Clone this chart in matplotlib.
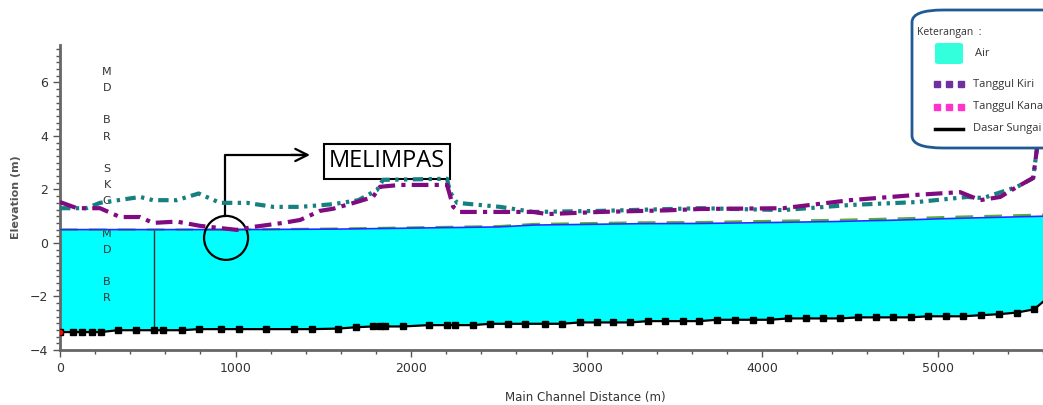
import matplotlib
matplotlib.use("Agg")
import matplotlib.pyplot as plt
from matplotlib.patches import FancyBboxPatch, Ellipse
from matplotlib.ticker import MultipleLocator

# dasar sungai (bed) at each cross section
station = [0, 74, 125, 182, 233, 330, 433, 536, 587, 695, 792, 917, 1020, 1174,
           1333, 1436, 1586, 1684, 1784, 1824, 1851, 1954, 2100, 2203, 2251, 2351,
           2451, 2554, 2649, 2762, 2860, 2960, 3062, 3149, 3249, 3351, 3446, 3549,
           3643, 3743, 3846, 3946, 4046, 4149, 4249, 4346, 4446, 4546, 4649, 4744,
           4846, 4946, 5046, 5144, 5244, 5352, 5452, 5549, 5600]
bed = [-3.33, -3.33, -3.33, -3.33, -3.33, -3.26, -3.26, -3.26, -3.26, -3.26, -3.22,
       -3.22, -3.22, -3.22, -3.22, -3.22, -3.20, -3.15, -3.12, -3.12, -3.12, -3.12,
       -3.07, -3.07, -3.07, -3.07, -3.02, -3.02, -3.02, -3.02, -3.02, -2.97, -2.97,
       -2.97, -2.97, -2.92, -2.92, -2.92, -2.92, -2.87, -2.87, -2.87, -2.87, -2.82,
       -2.82, -2.82, -2.82, -2.78, -2.78, -2.78, -2.78, -2.74, -2.74, -2.74, -2.70,
       -2.66, -2.60, -2.48, -2.20]

# muka air (water surface) and energy line
ws_x = [0, 1000, 1600, 2500, 2700, 3300, 3650, 3900, 4400, 4800, 5100, 5600]
ws_y = [0.50, 0.50, 0.52, 0.60, 0.67, 0.72, 0.73, 0.75, 0.80, 0.86, 0.92, 1.00]
eg_y = [0.50, 0.50, 0.54, 0.63, 0.71, 0.77, 0.78, 0.81, 0.86, 0.92, 0.98, 1.06]

# tanggul kiri
kiri_x = [0, 97, 228, 342, 456, 530, 665, 798, 1008, 1100, 1270, 1368, 1481, 1556,
          1700, 1783, 1823, 1937, 2205, 2240, 2279, 2695, 2775, 3077, 3459, 3647,
          4120, 4501, 4883, 5128, 5242, 5356, 5453, 5544, 5567, 5590]
kiri_y = [1.53, 1.30, 1.30, 0.97, 0.97, 0.75, 0.80, 0.64, 0.49, 0.60, 0.75, 0.86,
          1.20, 1.28, 1.55, 1.72, 2.10, 2.17, 2.17, 1.35, 1.16, 1.16, 1.08, 1.16,
          1.22, 1.27, 1.30, 1.60, 1.80, 1.90, 1.60, 1.72, 2.10, 2.43, 3.60, 3.90]

# tanggul kanan
kanan_x = [0, 150, 228, 456, 530, 665, 790, 912, 1065, 1215, 1368, 1556, 1700, 1806,
           1840, 2205, 2222, 2262, 2507, 2695, 3077, 3647, 4120, 4501, 4883, 5168,
           5259, 5453, 5544, 5567, 5590]
kanan_y = [1.30, 1.30, 1.50, 1.72, 1.60, 1.60, 1.85, 1.50, 1.50, 1.35, 1.35, 1.45,
           1.60, 1.98, 2.36, 2.40, 1.90, 1.50, 1.35, 1.16, 1.20, 1.30, 1.23, 1.42,
           1.53, 1.72, 1.68, 2.10, 2.43, 3.60, 3.90]

bridge_x = 536
bridge_label = "S\nK\nG\n\nM\nD\n\nB\nR\n\nS\nK\nG\n\nM\nD\n\nB\nR"
legend_items = ["Air", "Tanggul Kiri", "Tanggul Kanan", "Dasar Sungai"]

W, H = 1043, 405
fig = plt.figure(figsize=(W / 100, H / 100), dpi=100)
ax = fig.add_axes([60 / W, 1 - 350 / H, 1 - 60 / W, (350 - 45) / H])


def px(x, y):
    return x / W, 1 - y / H


narrow = ["Liberation Sans Narrow", "DejaVu Sans"]

ax.fill_between(ws_x, [-9] * len(ws_x), ws_y, color="#00ffff", lw=0, zorder=1)
ax.fill_between(station, [-9] * len(station), bed, color="white", lw=0, zorder=1.5)
ax.plot(ws_x, eg_y, color="#5aaa3c", lw=1.6, ls=(0, (8, 5)), zorder=3)
ax.plot(ws_x, ws_y, color="#2030ff", lw=1.2, zorder=3)
ax.plot(kanan_x, kanan_y, color="#168080", lw=3, ls=(0, (2.5, 1.3, 0.8, 1.3, 0.8, 1.3)), zorder=8)
ax.plot(kiri_x, kiri_y, color="#800a80", lw=3, ls=(0, (4, 1.5, 1, 1.5)), zorder=8)
ax.plot(station, bed, color="black", lw=1.6, zorder=5)
ax.plot(station[:-1], bed[:-1], ls="none", marker="s", ms=4.5, color="black", zorder=5)
ax.plot(station[0], bed[0], ls="none", marker="o", ms=3, color="red", zorder=6)
ax.vlines(bridge_x, bed[station.index(bridge_x)], ws_y[0], color="#303030", lw=1, zorder=3)
ax.text(268, -2.25, bridge_label, family=narrow, fontsize=8, color="#333333",
        ha="center", va="bottom", linespacing=1.77, clip_on=True, zorder=2)

ax.set_xlim(0, 5600)
ax.set_ylim(-4, 7.4)
ax.xaxis.set_major_locator(MultipleLocator(1000))
ax.xaxis.set_minor_locator(MultipleLocator(200))
ax.yaxis.set_major_locator(MultipleLocator(2))
ax.yaxis.set_minor_locator(MultipleLocator(0.25))
for s in ["top", "right"]:
    ax.spines[s].set_visible(False)
for s in ["left", "bottom"]:
    ax.spines[s].set_color("#666666")
    ax.spines[s].set_linewidth(2)
ax.tick_params(which="both", direction="out", color="#555555", labelcolor="#333333")
ax.tick_params(which="major", length=5, width=1)
ax.tick_params(which="minor", length=3, width=1)
for lab in ax.get_xticklabels() + ax.get_yticklabels():
    lab.set_family(narrow)
    lab.set_fontsize(9)
ax.set_xlabel("Main Channel Distance (m)", family=narrow, fontsize=8.5, color="#333333")
ax.xaxis.set_label_coords((585 - 60) / (W - 60), -0.135)
ax.set_ylabel("Elevation (m)", family="DejaVu Sans", fontsize=8, fontweight="bold",
              color="#555555")
ax.yaxis.set_label_coords(-0.04, 0.5)

# melimpas annotation
ax.add_patch(Ellipse((946, 0.19), 44 / 0.1755, 44 / 26.75, fill=False, lw=1.6,
                     color="black", zorder=7))
ax.plot([940, 940, 1400], [1.0, 3.29, 3.29], color="black", lw=1.6, zorder=7)
ax.annotate("", xy=(1440, 3.29), xytext=(1300, 3.29),
            arrowprops=dict(arrowstyle="->", lw=1.6, color="black",
                            mutation_scale=22), zorder=7)
ax.text(1863, 3.05, "MELIMPAS", family="Open Sans", fontsize=17, ha="center",
        va="center", zorder=7,
        bbox=dict(boxstyle="square,pad=0.22", fc="white", ec="black", lw=1.5))

# keterangan box
x0, y0 = px(912, 148)
x1, y1 = px(1075, 10)
fig.patches.append(FancyBboxPatch((x0, y0), x1 - x0, y1 - y0,
                                  boxstyle="round,pad=0,rounding_size=0.03",
                                  transform=fig.transFigure, fc="white",
                                  ec="#1f5a94", lw=2, zorder=10))
fig.text(*px(917, 32), "Keterangan  :", family="Open Sans", fontsize=7.5,
         color="#333333", va="center", zorder=11)
fig.patches.append(FancyBboxPatch(px(935, 64), 28 / W, 21 / H,
                                  boxstyle="round,pad=0,rounding_size=0.004",
                                  transform=fig.transFigure, fc="#33ffdd",
                                  ec="none", zorder=11))
fig.text(*px(975, 54), legend_items[0], family="Open Sans", fontsize=8,
         color="#333333", va="center", zorder=11)
for i, col in enumerate(["#7030a0", "#ff33cc", "black"]):
    yy = 84 + i * 22.5
    if i < 2:
        xs = [px(x, yy)[0] for x in (937, 949, 961)]
        fig.add_artist(plt.Line2D(xs, [px(0, yy)[1]] * 3, ls="none", marker="s",
                                  ms=5, color=col, transform=fig.transFigure, zorder=11))
    else:
        xa, ya = px(935, yy)
        xb, _ = px(963, yy)
        fig.add_artist(plt.Line2D([xa, xb], [ya, ya], color=col, lw=2.5,
                                  transform=fig.transFigure, zorder=11))
    fig.text(*px(973, yy), legend_items[i + 1], family="Open Sans", fontsize=8,
             color="#333333", va="center", zorder=11)

fig.savefig("out.png", dpi=100)
